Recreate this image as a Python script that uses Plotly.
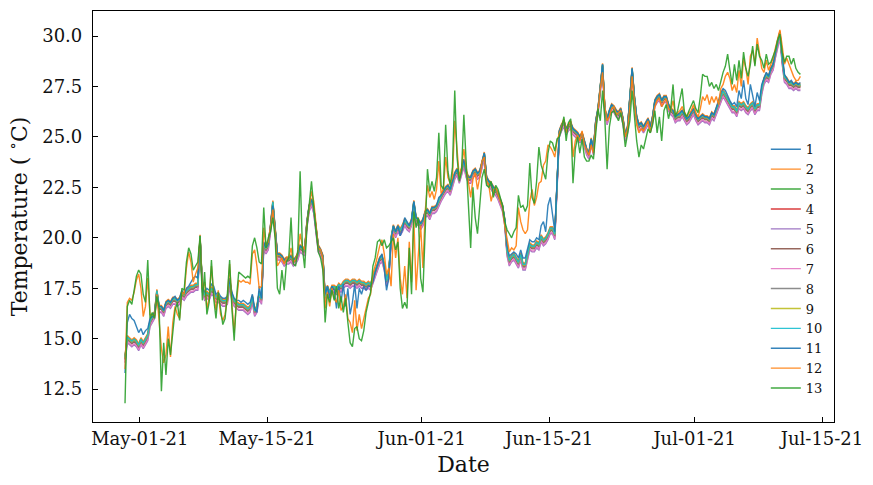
import pandas as pd
import plotly.graph_objects as go

# 6-hourly readings starting 2021-04-29 09:00
start_time = "2021-04-29 09:00"
step = "6h"

green13 = [
 11.8, 16.6, 16.9, 16.7, 17.4, 18.1, 18.4, 18.2, 17.2, 16.8, 18.9, 16.0, 16.3, 16.0, 17.1, 16.5,
 12.4, 14.8, 13.2, 15.0, 14.2, 15.3, 16.4, 16.8, 15.9, 17.5, 17.4, 18.8, 19.5, 19.2, 18.4, 18.6,
 18.8, 20.1, 16.9, 18.3, 16.2, 16.8, 18.9, 17.0, 16.0, 17.3, 16.6, 15.7, 16.0, 17.2, 18.9, 16.5,
 14.9, 17.0, 18.3, 18.2, 18.1, 18.0, 18.1, 18.0, 19.6, 20.0, 19.5, 18.8, 18.7, 21.5, 19.5, 20.0,
 20.3, 21.0, 20.0, 17.5, 17.2, 18.4, 17.4, 18.8, 19.0, 21.0, 18.7, 18.6, 19.4, 23.3, 19.5, 18.5,
 20.5, 21.5, 22.8, 21.5, 20.5, 19.3, 19.0, 18.4, 15.8, 17.2, 16.8, 17.4, 16.9, 17.6, 16.5, 17.1,
 16.3, 17.0, 15.8, 14.8, 14.6, 15.5, 15.6, 15.0, 14.9, 15.4, 16.3, 16.8, 17.3, 18.6, 19.0, 19.8,
 19.9, 19.6, 19.9, 19.5, 19.6, 19.8, 20.0, 19.4, 19.8, 17.5, 16.5, 16.8, 16.5, 19.5, 17.2, 21.3,
 20.5, 21.0, 18.0, 17.3, 20.8, 23.4, 22.3, 22.8, 22.3, 23.0, 25.2, 22.6, 22.4, 25.6, 23.3, 22.6,
 23.5, 27.3, 24.0, 22.8, 23.3, 26.1, 23.8, 21.5, 19.5, 22.5, 21.0, 20.2, 21.8, 23.0, 23.4, 22.6,
 22.5, 22.8, 22.0, 22.6, 22.4, 22.0, 21.6, 20.8, 20.4, 20.2, 20.0, 20.3, 20.5, 22.1, 21.5, 21.6,
 21.3, 21.6, 23.7, 22.0, 21.7, 22.8, 24.5, 23.6, 23.2, 22.9, 24.2, 24.8, 24.7, 24.3, 24.9, 25.0,
 25.4, 26.0, 24.8, 25.7, 25.9, 22.7, 24.4, 25.0, 24.2, 24.9, 24.0, 23.8, 23.8, 24.1, 23.9, 25.4,
 26.4, 25.8, 27.3, 25.9, 23.4, 25.5, 26.2, 26.3, 26.0, 25.8, 26.2, 25.6, 24.5, 25.2, 25.8, 27.3,
 26.0, 24.8, 24.0, 24.6, 24.4, 24.9, 25.4, 25.2, 25.6, 26.3, 25.2, 26.0, 24.8, 26.3, 26.6, 25.9,
 26.4, 27.6, 26.0, 26.3, 26.8, 27.4, 26.2, 26.0, 26.3, 26.6, 26.8, 26.4, 26.2, 27.0, 28.1, 28.0,
 28.0, 27.5, 27.7, 27.4, 27.6, 27.3, 27.8, 28.2, 28.5, 29.1, 28.3, 27.6, 28.6, 27.8, 28.8, 27.9,
 29.2, 28.4, 28.0, 28.6, 29.5, 28.5, 29.6, 29.0, 28.8, 28.4, 29.1, 28.6, 28.7, 29.0, 29.3, 29.8,
 30.1, 29.2, 28.7, 29.0, 29.0, 28.6, 28.9, 28.4, 28.2, 28.1,
]

orange12 = [
 13.5, 16.8, 17.0, 16.9, 17.3, 17.9, 18.2, 17.5, 16.1, 16.6, 18.0, 16.2, 16.2, 16.1, 17.2, 15.8,
 14.5, 13.8, 14.2, 15.6, 14.1, 15.8, 16.6, 16.2, 16.0, 17.3, 17.2, 18.5, 19.3, 18.8, 17.8, 18.2,
 18.5, 20.0, 17.5, 17.8, 16.5, 17.0, 18.6, 17.2, 16.4, 17.4, 16.2, 15.9, 16.2, 17.0, 18.7, 16.7,
 15.3, 16.8, 17.9, 17.8, 17.9, 17.8, 17.8, 17.7, 19.2, 19.4, 18.6, 17.5, 17.6, 20.5, 19.6, 19.8,
 20.5, 21.4, 20.3, 18.6, 18.8, 19.0, 18.7, 19.0, 19.0, 19.5, 18.8, 18.9, 19.3, 20.2, 19.6, 19.4,
 20.7, 21.4, 22.3, 21.8, 20.6, 19.5, 19.4, 19.0, 16.5, 17.3, 16.6, 17.5, 17.0, 16.8, 17.4, 16.4,
 16.6, 17.2, 16.0, 15.8, 15.3, 16.9, 15.4, 16.2, 15.5, 16.0, 16.6, 17.0, 17.2, 18.2, 18.6, 19.1,
 19.6, 19.9, 19.2, 18.2, 18.5, 17.6, 20.2, 19.0, 20.0, 18.0, 17.2, 18.6, 17.0, 19.8, 17.8, 21.0,
 17.4, 19.2, 20.6, 18.5, 21.3, 22.6, 22.0, 22.3, 21.9, 22.4, 23.8, 22.2, 22.4, 24.0, 23.0, 22.7,
 23.0, 25.8, 24.4, 23.0, 23.5, 24.4, 23.5, 22.6, 22.0, 22.9, 23.2, 22.4, 23.0, 23.8, 24.0, 22.8,
 22.6, 21.8, 22.3, 22.5, 22.2, 21.8, 21.5, 20.6, 20.0, 19.3, 19.5, 19.4, 19.6, 21.5, 20.8, 20.4,
 20.2, 20.4, 21.8, 22.4, 21.6, 22.0, 22.7, 22.8, 23.6, 23.8, 24.6, 24.5, 24.3, 24.0, 24.8, 25.2,
 25.5, 25.9, 25.2, 25.6, 25.8, 24.0, 24.8, 25.1, 24.8, 25.3, 24.6, 24.3, 24.1, 24.6, 24.2, 25.6,
 26.3, 27.4, 28.2, 26.5, 25.8, 26.0, 26.4, 26.5, 26.1, 26.2, 26.3, 25.8, 25.0, 25.4, 26.5, 28.0,
 26.8, 25.6, 25.2, 25.4, 25.3, 25.6, 25.8, 25.2, 25.8, 26.5, 26.8, 26.9, 26.5, 26.7, 26.9, 26.4,
 26.3, 26.8, 26.1, 26.2, 26.3, 26.5, 26.2, 26.0, 26.2, 26.3, 26.6, 26.2, 26.0, 26.4, 27.0, 26.8,
 27.1, 26.6, 27.0, 26.7, 27.0, 26.6, 27.4, 27.6, 28.0, 28.2, 27.9, 27.3, 27.6, 27.2, 28.3, 27.5,
 28.9, 28.4, 27.6, 29.0, 29.3, 28.6, 29.9, 29.2, 28.4, 28.2, 28.8, 28.3, 28.6, 28.9, 29.4, 29.9,
 30.3, 29.5, 28.6, 28.9, 28.6, 28.2, 28.0, 27.8, 27.8, 28.0,
]

blue11 = [
 13.3, 15.8, 16.2, 16.0, 15.9, 15.6, 15.3, 15.5, 15.2, 15.4, 15.5, 16.0, 16.1, 16.3, 17.2, 16.6,
 16.6, 16.4, 16.8, 16.9, 16.8, 17.0, 17.1, 16.9, 17.0, 17.4, 17.2, 17.5, 17.6, 17.8, 18.0, 18.1,
 18.0, 19.9, 17.6, 17.3, 17.5, 17.4, 17.7, 17.6, 17.2, 17.3, 17.1, 17.0, 17.0, 17.1, 18.0, 17.3,
 17.0, 16.9, 16.9, 16.8, 16.9, 16.8, 16.7, 16.8, 17.2, 16.5, 16.3, 17.6, 17.0, 19.8, 19.5, 19.7,
 20.6, 21.6, 20.4, 19.2, 19.2, 19.1, 18.9, 19.0, 19.0, 19.1, 18.9, 19.0, 19.2, 19.6, 19.5, 19.4,
 20.8, 21.6, 21.9, 21.5, 20.5, 19.6, 19.4, 19.1, 17.2, 17.6, 17.0, 17.6, 17.4, 16.5, 17.6, 16.8,
 17.7, 16.6, 17.5, 16.2, 16.8, 17.7, 16.5, 17.5, 17.2, 17.6, 17.4, 17.6, 17.6, 17.8, 18.3, 18.7,
 19.0, 19.2, 18.5, 17.4, 18.0, 19.8, 20.6, 20.3, 20.6, 20.1, 20.4, 21.0, 20.8, 20.6, 20.9, 21.8,
 21.0, 20.9, 20.7, 20.9, 21.3, 21.4, 21.2, 21.5, 21.5, 21.6, 22.0, 22.1, 22.3, 22.5, 22.6, 22.4,
 22.8, 23.2, 23.4, 23.0, 23.4, 23.9, 23.3, 23.0, 23.0, 23.3, 23.4, 23.2, 23.3, 23.7, 24.2, 23.0,
 22.8, 22.7, 22.5, 22.4, 22.2, 21.9, 21.6, 20.9, 19.6, 19.1, 19.2, 19.3, 19.2, 19.0, 19.4, 19.0,
 19.0, 19.5, 19.9, 19.8, 19.8, 20.0, 19.9, 20.6, 20.8, 20.3, 21.6, 22.0, 21.0, 20.3, 22.8, 25.3,
 25.6, 25.8, 25.4, 25.6, 25.7, 25.4, 25.3, 25.2, 25.0, 25.2, 24.8, 24.4, 24.2, 24.9, 24.4, 25.8,
 26.4, 27.5, 28.6, 26.4, 25.9, 26.3, 26.6, 26.5, 26.3, 26.2, 26.4, 25.9, 25.1, 25.5, 27.0, 28.4,
 27.0, 26.0, 25.6, 25.7, 25.5, 25.7, 25.9, 25.5, 26.0, 26.8, 27.0, 27.1, 26.8, 27.0, 27.0, 26.6,
 26.4, 26.3, 26.0, 26.1, 26.2, 26.3, 26.1, 25.9, 26.0, 26.2, 26.4, 26.1, 25.9, 26.0, 26.1, 26.0,
 26.0, 25.9, 26.2, 26.1, 26.4, 26.8, 27.2, 27.4, 27.3, 27.0, 26.8, 26.6, 26.7, 26.5, 27.3, 26.9,
 27.8, 26.9, 26.6, 27.6, 27.0, 26.5, 27.2, 26.8, 27.6, 27.9, 28.2, 28.0, 28.4, 28.6, 29.2, 29.8,
 30.2, 29.0, 28.1, 27.9, 27.7, 27.8, 27.6, 27.7, 27.6, 27.7,
]

# level of the tight group formed by sensors 1-10
cluster = [
 14.0, 15.0, 14.9, 14.8, 14.9, 14.8, 14.6, 14.9, 14.7, 14.9, 15.1, 15.8, 16.0, 16.2, 17.3, 16.5,
 16.5, 16.3, 16.7, 16.8, 16.7, 16.9, 16.9, 16.8, 16.9, 17.2, 17.1, 17.3, 17.4, 17.5, 17.5, 17.6,
 17.6, 20.0, 17.5, 17.1, 17.2, 17.1, 17.4, 17.3, 17.0, 17.0, 16.9, 16.8, 16.8, 16.9, 17.8, 17.1,
 16.8, 16.7, 16.6, 16.6, 16.6, 16.5, 16.4, 16.5, 17.0, 16.3, 16.5, 17.2, 16.9, 19.6, 19.4, 19.6,
 20.5, 21.7, 20.4, 19.1, 19.1, 19.0, 18.8, 18.9, 18.9, 19.0, 18.8, 18.9, 19.1, 19.5, 19.4, 19.3,
 20.7, 21.5, 21.8, 21.4, 20.4, 19.5, 19.3, 19.0, 17.0, 17.5, 17.2, 17.5, 17.5, 17.4, 17.6, 17.5,
 17.7, 17.8, 17.8, 17.7, 17.8, 17.8, 17.7, 17.8, 17.7, 17.7, 17.6, 17.7, 17.6, 17.9, 18.3, 18.6,
 18.9, 19.0, 18.6, 17.8, 18.2, 19.9, 20.5, 20.2, 20.5, 20.3, 20.5, 20.8, 20.6, 20.5, 20.8, 21.7,
 20.9, 20.8, 20.6, 20.8, 21.2, 21.3, 21.1, 21.4, 21.4, 21.5, 21.8, 22.0, 22.2, 22.4, 22.5, 22.3,
 22.7, 23.1, 23.3, 22.9, 23.3, 23.7, 23.2, 22.9, 22.9, 23.2, 23.3, 23.1, 23.2, 23.6, 24.1, 22.9,
 22.7, 22.6, 22.4, 22.3, 22.1, 21.8, 21.5, 20.8, 19.3, 18.8, 19.0, 19.1, 18.9, 18.7, 19.1, 18.6,
 18.6, 19.2, 19.6, 19.5, 19.5, 19.7, 19.6, 20.0, 19.8, 19.9, 20.1, 20.4, 20.4, 20.1, 22.5, 25.2,
 25.5, 25.7, 25.3, 25.5, 25.6, 25.3, 25.2, 25.1, 24.9, 25.1, 24.7, 24.3, 24.1, 24.8, 24.3, 25.7,
 26.3, 27.4, 28.5, 26.3, 25.8, 26.2, 26.5, 26.4, 26.2, 26.1, 26.3, 25.8, 25.0, 25.4, 26.9, 28.3,
 26.9, 25.9, 25.5, 25.6, 25.4, 25.6, 25.8, 25.4, 25.9, 26.7, 26.9, 27.0, 26.7, 26.9, 26.9, 26.5,
 26.3, 26.2, 25.9, 26.0, 26.0, 26.2, 26.0, 25.8, 25.9, 26.1, 26.3, 26.0, 25.8, 25.9, 26.0, 25.9,
 25.9, 25.8, 26.1, 26.0, 26.3, 26.6, 27.0, 27.2, 27.0, 26.8, 26.6, 26.4, 26.4, 26.2, 26.6, 26.5,
 26.6, 26.4, 26.3, 26.5, 26.6, 26.3, 26.5, 26.5, 27.3, 27.8, 28.0, 27.9, 28.3, 28.5, 29.1, 29.7,
 30.1, 28.8, 27.9, 27.8, 27.6, 27.6, 27.5, 27.6, 27.5, 27.5,
]

# offset of sensors 1-10 from the group level
cluster_offsets = [0.10, 0.15, 0.05, 0.00, -0.20, -0.05, -0.15, 0.00, 0.05, 0.08]

labels = [str(i) for i in range(1, 14)]
colors = ['#1f77b4', '#ff7f0e', '#2ca02c', '#d62728', '#9467bd', '#8c564b',
          '#e377c2', '#7f7f7f', '#bcbd22', '#17becf', '#1f77b4', '#ff7f0e', '#2ca02c']

tick_dates = ["2021-05-01", "2021-05-15", "2021-06-01", "2021-06-15", "2021-07-01", "2021-07-15"]
y_ticks = [12.5, 15.0, 17.5, 20.0, 22.5, 25.0, 27.5, 30.0]

assert len(green13) == len(orange12) == len(blue11) == len(cluster)
n = len(cluster)
times = pd.date_range(start_time, periods=n, freq=step)

series = []
for off in cluster_offsets:
    series.append([round(v + off, 2) for v in cluster])
series.append(blue11)
series.append(orange12)
series.append(green13)

fig = go.Figure()
for lab, col, ys in zip(labels, colors, series):
    fig.add_trace(go.Scatter(x=times, y=ys, mode="lines", name=lab,
                             line=dict(color=col, width=1.4), opacity=0.9))

font_family = "DejaVu Serif"
fig.update_layout(
    width=873, height=485,
    margin=dict(l=93, r=35, t=10, b=63),
    paper_bgcolor="white", plot_bgcolor="white",
    font=dict(family=font_family, color="#111111", size=18),
    showlegend=True,
    legend=dict(x=0.908, y=0.70, xanchor="left", yanchor="top",
                bgcolor="rgba(0,0,0,0)", borderwidth=0,
                font=dict(family=font_family, size=13, color="#111111"),
                tracegroupgap=0, itemwidth=30),
)
fig.update_xaxes(
    type="date",
    range=["2021-04-25 20:30", "2021-07-16 07:40"],
    tickvals=tick_dates, tickformat="%b-%d-%y",
    ticks="inside", ticklen=5, tickwidth=1, tickcolor="black",
    showline=True, linecolor="black", linewidth=1.2, mirror=True,
    showgrid=False, zeroline=False,
    tickfont=dict(family=font_family, size=18),
    title=dict(text="Date", font=dict(family=font_family, size=22), standoff=8),
)
fig.update_yaxes(
    range=[10.87, 31.24],
    tickvals=y_ticks, tickformat=".1f",
    ticks="inside", ticklen=5, tickwidth=1, tickcolor="black",
    showline=True, linecolor="black", linewidth=1.2, mirror=True,
    showgrid=False, zeroline=False,
    tickfont=dict(family=font_family, size=18),
    ticklabelstandoff=6,
    title=dict(text="Temperature ( <sup>∘</sup>C)", font=dict(family=font_family, size=22), standoff=8),
)

fig.write_html("out.html")
